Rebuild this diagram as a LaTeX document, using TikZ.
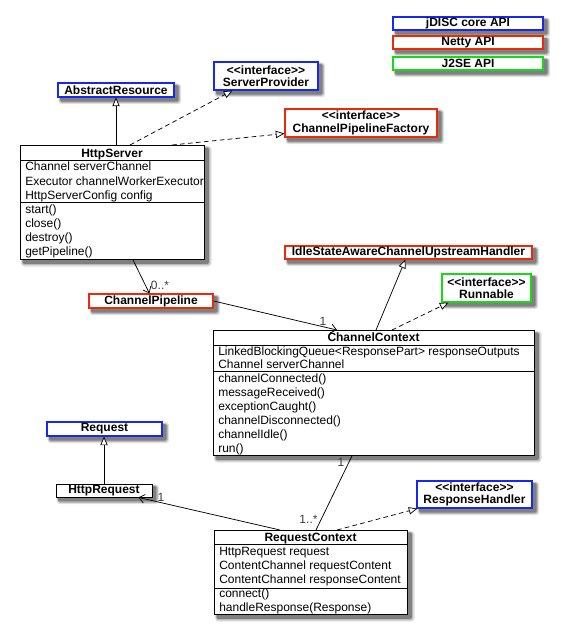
\documentclass[tikz,border=0pt]{standalone}
\usepackage{fontspec}
\setmainfont{Liberation Sans}
\usetikzlibrary{arrows.meta,calc,backgrounds}

% one unit of the drawing grid
\newlength\upx
\setlength\upx{0.75pt}
% guillemet-free stereotype brackets
\newcommand\stereo[1]{<\kern0pt<#1>\kern0pt>}

\definecolor{apiblue}{RGB}{20,40,240}
\definecolor{apired}{RGB}{240,40,10}
\definecolor{apigreen}{RGB}{20,220,20}
\definecolor{labelgray}{RGB}{60,60,60}

\begin{document}
\begin{tikzpicture}[x=0.75pt,y=-0.75pt,
  font=\fontsize{9}{10.5}\selectfont,
  box/.style={draw, fill=white, line width=0.65pt, inner sep=0pt},
  boxsize/.style 2 args={minimum width=#1\upx, minimum height=#2\upx},
  core/.style={box, draw=apiblue, line width=0.85pt},
  netty/.style={box, draw=apired, line width=0.85pt},
  jse/.style={box, draw=apigreen, line width=0.85pt},
  iface/.style={align=center, font=\fontsize{9}{9.4}\selectfont\bfseries},
  member/.style={anchor=base west, inner sep=0pt},
  title/.style={anchor=base, inner sep=0pt, font=\fontsize{9}{10.5}\selectfont\bfseries},
  sep/.style={line width=0.6pt},
  conn/.style={line width=0.55pt},
  gen/.style={conn, -{Triangle[open, length=6.5pt, width=5.5pt, fill=white]}},
  real/.style={gen, dash pattern=on 3.5pt off 2.5pt},
  assoc/.style={conn, -{Straight Barb[length=4pt, width=6.5pt]}},
  mult/.style={inner sep=0pt, text=labelgray}]

\useasboundingbox (0,0) rectangle (563,638);

% legend
\node[core, boxsize={150}{13}] (lgcore) at (468,23.5) {\textbf{jDISC core API}};
\node[netty, boxsize={150}{13}] (lgnetty) at (468,42.5) {\textbf{Netty API}};
\node[jse, boxsize={150}{13}] (lgjse) at (468,63.5) {\textbf{J2SE API}};

% library types
\node[core, boxsize={116}{14}] (ar) at (116,90) {\textbf{AbstractResource}};
\node[core, boxsize={104}{28}, iface] (sp) at (266,76) {\stereo{interface}\\ServerProvider};
\node[netty, boxsize={152}{28}, iface] (cpf) at (361,123) {\stereo{interface}\\ChannelPipelineFactory};
\node[netty, boxsize={124}{14}] (cp) at (151,301) {\textbf{ChannelPipeline}};
\node[netty, boxsize={247}{13}] (idle) at (408.5,252.5) {\textbf{IdleStateAwareChannelUpstreamHandler}};
\node[jse, boxsize={89}{28}, iface] (run) at (486.5,288) {\stereo{interface}\\Runnable};
\node[core, boxsize={115}{14}] (req) at (104.5,429) {\textbf{Request}};
\node[core, boxsize={115}{27}, iface] (rh) at (474.5,494.5) {\stereo{interface}\\ResponseHandler};
\node[box, boxsize={96}{13}] (hreq) at (104,490.5) {\textbf{HttpRequest}};

% HttpServer class
\node[box, anchor=north west, boxsize={184}{114}] (hs) at (20,145) {};
\draw[sep] ($(hs.north west)+(0,15)$) -- ($(hs.north east)+(0,15)$);
\draw[sep] ($(hs.north west)+(0,57)$) -- ($(hs.north east)+(0,57)$);
\node[title] (hs-t) at (112,157) {HttpServer};
\node[member] (hs-a1) at (25,171) {Channel serverChannel};
\node[member] (hs-a2) at (25,185) {Executor channelWorkerExecutor};
\node[member] (hs-a3) at (25,199) {HttpServerConfig config};
\node[member] (hs-m1) at (25,213) {start()};
\node[member] (hs-m2) at (25,227) {close()};
\node[member] (hs-m3) at (25,241) {destroy()};
\node[member] (hs-m4) at (25,255) {getPipeline()};

% ChannelContext class
\node[box, anchor=north west, boxsize={321}{125}] (cc) at (213,330) {};
\draw[sep] ($(cc.north west)+(0,15)$) -- ($(cc.north east)+(0,15)$);
\draw[sep] ($(cc.north west)+(0,41)$) -- ($(cc.north east)+(0,41)$);
\node[title] (cc-t) at (373.5,341.5) {ChannelContext};
\node[member] (cc-a1) at (218,355) {LinkedBlockingQueue<ResponsePart> responseOutputs};
\node[member] (cc-a2) at (218,368) {Channel serverChannel};
\node[member] (cc-m1) at (218,382) {channelConnected()};
\node[member] (cc-m2) at (218,396) {messageReceived()};
\node[member] (cc-m3) at (218,410) {exceptionCaught()};
\node[member] (cc-m4) at (218,424) {channelDisconnected()};
\node[member] (cc-m5) at (218,438) {channelIdle()};
\node[member] (cc-m6) at (218,452) {run()};

% RequestContext class
\node[box, anchor=north west, boxsize={193}{84}] (rc) at (214,530) {};
\draw[sep] ($(rc.north west)+(0,14)$) -- ($(rc.north east)+(0,14)$);
\draw[sep] ($(rc.north west)+(0,58)$) -- ($(rc.north east)+(0,58)$);
\node[title] (rc-t) at (310.5,541) {RequestContext};
\node[member] (rc-a1) at (219,555) {HttpRequest request};
\node[member] (rc-a2) at (219,569) {ContentChannel requestContent};
\node[member] (rc-a3) at (219,583) {ContentChannel responseContent};
\node[member] (rc-m1) at (219,597) {connect()};
\node[member] (rc-m2) at (219,611) {handleResponse(Response)};

% soft drop shadows behind every box, lightest layer outermost
\begin{scope}[on background layer]
  \foreach \n in {lgcore,lgnetty,lgjse,ar,sp,cpf,cp,idle,run,req,rh,hreq,hs,cc,rc}{
    \fill[black!12, rounded corners=2.5pt]
      ([xshift=0.8pt,yshift=-5pt]\n.south west) rectangle ([xshift=5pt,yshift=-0.8pt]\n.north east);
    \fill[black!28, rounded corners=2pt]
      ([xshift=1.4pt,yshift=-4pt]\n.south west) rectangle ([xshift=4pt,yshift=-1.4pt]\n.north east);
    \fill[black!50, rounded corners=1pt]
      ([xshift=2pt,yshift=-3pt]\n.south west) rectangle ([xshift=3pt,yshift=-2pt]\n.north east);
  }
\end{scope}

% HttpServer relations
\draw[gen] (ar.south |- hs.north) -- (ar.south);
\draw[real] ($(hs.north west)+(110,0)$) -- ($(sp.south west)+(19,0)$);
\draw[real] ($(hs.north west)+(152,0)$) -- ($(cpf.south west)+(0,-4)$);
\draw[assoc] ($(hs.south west)+(113,0)$) -- ($(cp.north west)+(61,0)$);
\node[mult] (m-cp) at (160,285) {0..*};

% ChannelContext relations
\draw[assoc] (cp.east) -- ($(cc.north west)+(124,0)$);
\node[mult] (m-cc) at (323,321) {1};
\draw[gen] ($(cc.north west)+(163,0)$) -- ($(idle.south west)+(121,0)$);
\draw[real] ($(cc.north west)+(179,0)$) -- ($(run.south west)+(7,0)$);
\draw[conn] ($(cc.south west)+(139,0)$) -- ($(rc.north west)+(102,0)$);
\node[mult] (m-cc2) at (341,462) {1};
\node[mult] (m-rc) at (308.5,519.5) {1..*};

% RequestContext relations
\draw[real] ($(rc.north west)+(123,0)$) -- ($(rh.south west)+(1,0)$);
\draw[assoc] ($(rc.north west)+(66,0)$) -- ($(hreq.south east)+(-14,0)$);
\node[mult] (m-hr) at (161,497) {1};
\draw[gen] (hreq.north) -- (hreq.north |- req.south);

\end{tikzpicture}
\end{document}
